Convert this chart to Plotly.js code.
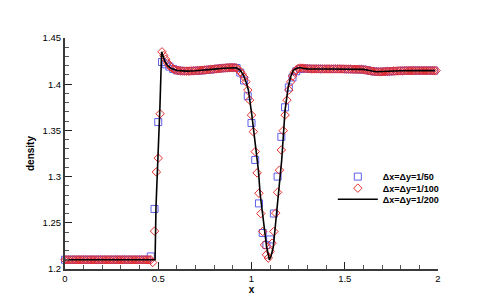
<!DOCTYPE html>
<html>
<head>
<meta charset="utf-8">
<script src="https://cdn.plot.ly/plotly-3.0.1.min.js"></script>
<style>html,body{margin:0;padding:0;background:#fff}#chart{width:498px;height:304px}</style>
</head>
<body>
<div id="chart"></div>
<script>
// Series names
const seriesNames = ["\u0394x=\u0394y=1/50", "\u0394x=\u0394y=1/100", "\u0394x=\u0394y=1/200"];

// Δx=Δy=1/50 : density at x = 0, 0.02, 0.04, ... 1.98
const dx50 = 0.02;
const rho50 = [
  1.21,1.21,1.21,1.21,1.21,1.21,1.21,1.21,1.21,1.21,
  1.21,1.21,1.21,1.21,1.21,1.21,1.21,1.21,1.21,1.21,
  1.21,1.21,1.21,1.2136,1.265,1.359,1.424,1.4215,1.419,1.4165,
  1.415,1.4145,1.4143,1.4142,1.4143,1.4145,1.4147,1.415,1.4154,1.4158,
  1.4164,1.4168,1.4172,1.4176,1.4179,1.418,1.4175,1.4125,1.404,1.387,
  1.358,1.318,1.271,1.239,1.226,1.232,1.26,1.30,1.343,1.375,
  1.3965,1.4073,1.414,1.4165,1.417,1.4168,1.4166,1.4166,1.4166,1.4165,
  1.4165,1.4165,1.4165,1.4165,1.4165,1.4164,1.4163,1.4162,1.4161,1.416,
  1.4158,1.4151,1.4143,1.4137,1.4134,1.4135,1.4137,1.4139,1.4141,1.4143,
  1.4145,1.4146,1.4146,1.4147,1.4147,1.4147,1.4147,1.4147,1.4147,1.4147
];

// Δx=Δy=1/100 : density at x = 0, 0.01, 0.02, ... 1.99
const dx100 = 0.01;
const rho100 = [
  1.21,1.21,1.21,1.21,1.21,1.21,1.21,1.21,1.21,1.21,
  1.21,1.21,1.21,1.21,1.21,1.21,1.21,1.21,1.21,1.21,
  1.21,1.21,1.21,1.21,1.21,1.21,1.21,1.21,1.21,1.21,
  1.21,1.21,1.21,1.21,1.21,1.21,1.21,1.21,1.21,1.21,
  1.21,1.21,1.21,1.21,1.21,1.21,1.21,1.207,1.241,1.305,
  1.32,1.368,1.435,1.431,1.427,1.423,1.42,1.418,1.4165,1.4155,
  1.415,1.4147,1.4145,1.4143,1.4142,1.4142,1.4142,1.4143,1.4144,1.4145,
  1.4146,1.4147,1.4148,1.415,1.4152,1.4154,1.4156,1.4158,1.416,1.4162,
  1.4164,1.4166,1.4168,1.417,1.4172,1.4174,1.4176,1.4178,1.4179,1.418,
  1.418,1.418,1.4175,1.416,1.4135,1.411,1.4075,1.4026,1.3936,1.3828,
  1.3666,1.3486,1.327,1.304,1.282,1.26,1.2406,1.226,1.2154,1.2119,
  1.219,1.228,1.2406,1.2605,1.283,1.307,1.3288,1.3497,1.3666,1.3828,
  1.3936,1.4026,1.4088,1.413,1.4155,1.417,1.4175,1.4174,1.4172,1.417,
  1.4168,1.4167,1.4166,1.4166,1.4166,1.4166,1.4166,1.4166,1.4165,1.4165,
  1.4165,1.4165,1.4165,1.4165,1.4165,1.4165,1.4165,1.4165,1.4165,1.4165,
  1.4164,1.4164,1.4163,1.4163,1.4162,1.4162,1.4161,1.4161,1.416,1.416,
  1.4158,1.4155,1.4151,1.4147,1.4143,1.414,1.4137,1.4135,1.4134,1.4134,
  1.4135,1.4136,1.4137,1.4138,1.4139,1.414,1.4141,1.4142,1.4143,1.4144,
  1.4145,1.4145,1.4146,1.4146,1.4146,1.4147,1.4147,1.4147,1.4147,1.4147,
  1.4147,1.4147,1.4147,1.4147,1.4147,1.4147,1.4147,1.4147,1.4147,1.4147
];

// Δx=Δy=1/200 : line
const x200 = [0,0.1,0.2,0.3,0.4,0.47,0.483,0.488,0.5,0.509,0.518,0.525,0.535,0.55,0.57,0.6,0.65,0.7,0.75,0.8,0.85,0.9,0.92,0.94,0.956,0.97,0.983,1.001,1.019,1.037,1.046,1.063,1.081,1.096,1.105,1.117,1.135,1.149,1.162,1.18,1.197,1.21,1.224,1.24,1.26,1.275,1.3,1.4,1.5,1.6,1.64,1.67,1.7,1.75,1.8,1.9,1.985];
const rho200 = [1.21,1.21,1.21,1.21,1.21,1.21,1.21,1.2676,1.3216,1.3756,1.435,1.430,1.425,1.420,1.417,1.415,1.4142,1.4145,1.415,1.4163,1.4172,1.418,1.4178,1.415,1.41,1.403,1.394,1.368,1.336,1.307,1.282,1.253,1.224,1.21,1.214,1.224,1.264,1.296,1.318,1.372,1.397,1.408,1.415,1.417,1.418,1.4172,1.4166,1.4165,1.4163,1.416,1.4145,1.4135,1.4137,1.4142,1.4145,1.4147,1.4147];

// Axis ticks
const xTicks = [0, 0.5, 1, 1.5, 2];
const yTicks = [1.2, 1.25, 1.3, 1.35, 1.4, 1.45];

const FONT = "Liberation Sans, Arial, Helvetica, sans-serif";

const traces = [
  {
    type: "scatter", mode: "markers", name: seriesNames[0],
    x0: 0, dx: dx50, y: rho50, legend: "legend",
    marker: {symbol: "square-open", size: 7, color: "rgb(95,95,235)", line: {width: 1, color: "rgb(95,95,235)"}},
    cliponaxis: false
  },
  {
    type: "scatter", mode: "markers", name: seriesNames[1],
    x0: 0, dx: dx100, y: rho100, legend: "legend2",
    marker: {symbol: "diamond-open", size: 6.5, color: "rgb(230,45,45)", line: {width: 1, color: "rgb(230,45,45)"}},
    cliponaxis: false
  },
  {
    type: "scatter", mode: "lines", name: seriesNames[2],
    x: x200, y: rho200, legend: "legend3",
    line: {color: "#000", width: 1.6},
    cliponaxis: false
  }
];

const legendBase = {
  xanchor: "left", yanchor: "middle", x: 0.718,
  bgcolor: "rgba(0,0,0,0)", borderwidth: 0, itemwidth: 40,
  font: {family: FONT, size: 9, weight: "bold", color: "#000"}
};

const layout = {
  width: 498, height: 304,
  margin: {l: 65, r: 60, t: 38, b: 35, pad: 0},
  paper_bgcolor: "#fff", plot_bgcolor: "#fff",
  font: {family: FONT, size: 9.5, color: "#000"},
  showlegend: true,
  legend: Object.assign({}, legendBase, {y: 0.400}),
  legend2: Object.assign({}, legendBase, {y: 0.350}),
  legend3: Object.assign({}, legendBase, {y: 0.302}),
  xaxis: {
    range: [0, 2], tickvals: xTicks, ticktext: xTicks.map(String),
    showgrid: false, zeroline: false, showline: true, linecolor: "#3a3a3a", linewidth: 2,
    ticks: "inside", ticklen: 7, tickwidth: 1, tickcolor: "#222",
    minor: {dtick: 0.1, ticks: "inside", ticklen: 4, tickwidth: 1, tickcolor: "#555", showgrid: false},
    tickfont: {family: FONT, size: 9.5, color: "#000"},
    title: {text: "x", font: {family: FONT, size: 10, weight: "bold", color: "#000"}, standoff: 0},
    fixedrange: true
  },
  yaxis: {
    range: [1.2, 1.45], tickvals: yTicks, ticktext: yTicks.map(String),
    showgrid: false, zeroline: false, showline: true, linecolor: "#3a3a3a", linewidth: 2,
    ticks: "inside", ticklen: 7, tickwidth: 1, tickcolor: "#222",
    minor: {dtick: 0.01, ticks: "inside", ticklen: 4, tickwidth: 1, tickcolor: "#555", showgrid: false},
    tickfont: {family: FONT, size: 9.5, color: "#000"},
    title: {text: "density", font: {family: FONT, size: 10, weight: "bold", color: "#000"}, standoff: 6},
    fixedrange: true
  }
};

Plotly.newPlot("chart", traces, layout, {displayModeBar: false, staticPlot: true});
</script>
</body>
</html>
